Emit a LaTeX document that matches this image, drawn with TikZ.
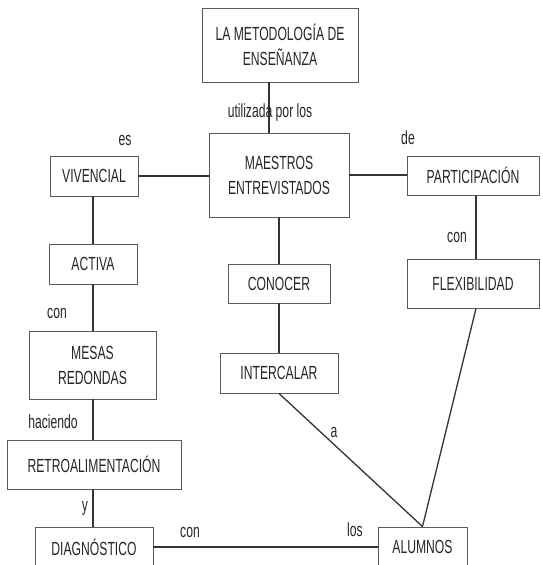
\documentclass[tikz,border=0pt]{standalone}
\usepackage{fontspec}
\setmainfont[FakeStretch=0.64]{Liberation Sans}
\tikzset{
  box/.style={draw=black!65, line width=0.9pt, fill=white, inner sep=0pt, align=center,
    font=\fontsize{19}{25}\selectfont, text=black!85},
  conn/.style={draw=black!80, line width=1.3pt},
  lbl/.style={font=\fontsize{19}{25}\selectfont, text=black!85, inner sep=0pt}
}
\begin{document}
\begin{tikzpicture}[x=1pt,y=-1pt]
\useasboundingbox (0,0) rectangle (542,565);
\begin{scope}
\clip (0,0) rectangle (542,565);
\node[box, minimum width=156pt, minimum height=74pt] (title) at (280,45) {LA METODOLOGÍA DE\\ENSEÑANZA};
\node[box, minimum width=140pt, minimum height=84pt] (maestros) at (279,175) {MAESTROS\\ENTREVISTADOS};
\node[box, minimum width=88pt, minimum height=40pt] (vivencial) at (94,176) {VIVENCIAL};
\node[box, minimum width=132pt, minimum height=39pt] (partic) at (473,175.5) {PARTICIPACIÓN};
\node[box, minimum width=88pt, minimum height=40pt] (activa) at (93,264) {ACTIVA};
\node[box, minimum width=102pt, minimum height=39pt] (conocer) at (279,283.5) {CONOCER};
\node[box, minimum width=132pt, minimum height=49pt] (flex) at (473,283.5) {FLEXIBILIDAD};
\node[box, minimum width=127pt, minimum height=68pt] (mesas) at (92.5,365) {MESAS\\REDONDAS};
\node[box, minimum width=118pt, minimum height=40pt] (intercalar) at (279,373) {INTERCALAR};
\node[box, minimum width=174pt, minimum height=49pt] (retro) at (94,464.5) {RETROALIMENTACIÓN};
\node[box, minimum width=118pt, minimum height=40pt] (diag) at (94,547) {DIAGNÓSTICO};
\node[box, minimum width=89pt, minimum height=40pt] (alumnos) at (422.5,547) {ALUMNOS};

\draw[conn] ([xshift=-11pt]title.south) -- ([xshift=-10pt]maestros.north);
\draw[conn] (vivencial.east) -- (vivencial.east -| maestros.west);
\draw[conn] (maestros.east) -- (maestros.east -| partic.west);
\draw[conn] (vivencial.south -| activa.north) -- (activa.north);
\draw[conn] (activa.south) -- (activa.south |- mesas.north);
\draw[conn] (activa.south |- mesas.south) -- (activa.south |- retro.north);
\draw[conn] (activa.south |- retro.south) -- (activa.south |- diag.north);
\draw[conn] (diag.east) -- (alumnos.west);
\draw[conn] (maestros.south) -- (conocer.north);
\draw[conn] (conocer.south) -- (intercalar.north);
\draw[conn] (intercalar.south) -- (alumnos.north);
\draw[conn] ([xshift=3pt]partic.south) -- ([xshift=3pt]flex.north);
\draw[conn] ([xshift=3pt]flex.south) -- (alumnos.north);

\node[lbl] (l1) at (270,113) {utilizada por los};
\node[lbl] (l2) at (125,140) {es};
\node[lbl] (l3) at (408,138) {de};
\node[lbl] (l4) at (457,237) {con};
\node[lbl] (l5) at (57,313) {con};
\node[lbl] (l6) at (53,422) {haciendo};
\node[lbl] (l7) at (85,508) {y};
\node[lbl] (l8) at (190,532) {con};
\node[lbl] (l9) at (355,530) {los};
\node[lbl] (l10) at (334,432) {a};
\end{scope}
\end{tikzpicture}
\end{document}
